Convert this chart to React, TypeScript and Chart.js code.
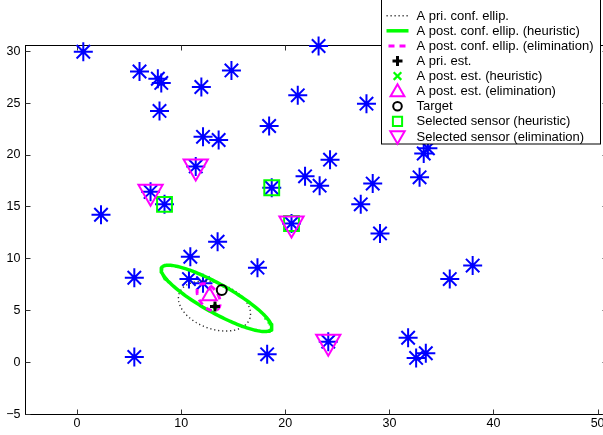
import React, { useEffect, useRef } from 'react';
import { Chart, registerables } from 'chart.js';

Chart.register(...registerables);

// ---- data ----
const SENSOR_X = [0.6, 6.0, 7.76, 8.09, 7.92, 11.94, 12.1, 13.6, 11.4, 7.06, 8.4, 2.3, 23.2, 14.83, 21.2, 27.8, 18.45, 24.3, 21.9, 23.3, 28.4, 27.25, 18.7, 20.6, 33.3, 33.7, 32.9, 10.88, 13.5, 5.5, 10.75, 12.1, 5.5, 17.33, 18.26, 24.13, 29.1, 31.8, 32.57, 33.5, 35.8, 38.0];
const SENSOR_Y = [29.9, 28.0, 27.3, 26.9, 24.2, 26.5, 21.7, 21.4, 18.85, 16.4, 15.2, 14.2, 30.45, 28.1, 25.7, 24.9, 22.75, 19.5, 17.9, 17.0, 17.2, 15.2, 16.8, 13.35, 20.1, 20.6, 17.8, 10.15, 11.6, 8.13, 8.0, 7.6, 0.5, 9.1, 0.75, 1.97, 12.4, 2.35, 0.4, 0.85, 8.0, 9.3];

const SEL_HEUR_X = [8.4, 18.7, 20.6];
const SEL_HEUR_Y = [15.2, 16.8, 13.35];
const SEL_ELIM_X = [11.4, 7.06, 20.6, 24.13];
const SEL_ELIM_Y = [18.85, 16.4, 13.35, 1.97];

const TARGET_X = [13.9];
const TARGET_Y = [6.95];
const PRI_EST_X = [13.25];
const PRI_EST_Y = [5.35];
const POST_HEUR_X = [13.25];
const POST_HEUR_Y = [5.35];
const POST_ELIM_X = [12.72];
const POST_ELIM_Y = [6.37];

// ellipse parameters: centre x, centre y, semi-major, semi-minor, angle (deg)
const PRI_ELLIPSE = [13.2, 5.4, 3.6, 2.2, -20];
const HEUR_ELLIPSE = [13.39, 6.14, 6.05, 1.38, -29.3];
const ELIM_ELLIPSE = [12.64, 6.26, 1.45, 0.9, -55];

const X_TICKS = [0, 10, 20, 30, 40, 50];
const Y_TICKS = [-5, 0, 5, 10, 15, 20, 25, 30];

const LEGEND_LABELS = [
  'A pri. conf. ellip.',
  'A post. conf. ellip. (heuristic)',
  'A post. conf. ellip. (elimination)',
  'A pri. est.',
  'A post. est. (heuristic)',
  'A post. est. (elimination)',
  'Target',
  'Selected sensor (heuristic)',
  'Selected sensor (elimination)',
];

const BLUE = '#0000ff';
const GREEN = '#00ff00';
const MAGENTA = '#ff00ff';
const BLACK = '#000000';
const DOT = '#2a2a2a';
const FONT = '"Liberation Sans", Arial, Helvetica, sans-serif';

function pts(xs: number[], ys: number[]) {
  return xs.map((x, i) => ({ x, y: ys[i] }));
}

function ellipse(p: number[], n = 160) {
  const [cx, cy, a, b, deg] = p;
  const th = (deg * Math.PI) / 180;
  const out: { x: number; y: number }[] = [];
  for (let i = 0; i <= n; i++) {
    const t = (2 * Math.PI * i) / n;
    const ex = a * Math.cos(t);
    const ey = b * Math.sin(t);
    out.push({ x: cx + ex * Math.cos(th) - ey * Math.sin(th), y: cy + ex * Math.sin(th) + ey * Math.cos(th) });
  }
  return out;
}

function fmt(v: number) {
  return v < 0 ? '\u2212' + Math.abs(v) : String(v);
}

function drawMarker(ctx: CanvasRenderingContext2D, kind: string, x: number, y: number, r: number, color: string, lw: number) {
  ctx.save();
  ctx.strokeStyle = color;
  ctx.lineWidth = lw;
  ctx.beginPath();
  if (kind === 'cross') {
    ctx.moveTo(x - r, y); ctx.lineTo(x + r, y);
    ctx.moveTo(x, y - r); ctx.lineTo(x, y + r);
  } else if (kind === 'x') {
    ctx.moveTo(x - r, y - r); ctx.lineTo(x + r, y + r);
    ctx.moveTo(x + r, y - r); ctx.lineTo(x - r, y + r);
  } else if (kind === 'triUp') {
    ctx.moveTo(x, y - r); ctx.lineTo(x + r * 0.866, y + r * 0.5); ctx.lineTo(x - r * 0.866, y + r * 0.5); ctx.closePath();
  } else if (kind === 'triDown') {
    ctx.moveTo(x, y + r); ctx.lineTo(x + r * 0.866, y - r * 0.5); ctx.lineTo(x - r * 0.866, y - r * 0.5); ctx.closePath();
  } else if (kind === 'circle') {
    ctx.arc(x, y, r, 0, Math.PI * 2);
  } else if (kind === 'square') {
    ctx.rect(x - r, y - r, 2 * r, 2 * r);
  }
  ctx.stroke();
  ctx.restore();
}

const framePlugin = {
  id: 'matlabFrame',
  beforeDatasetsDraw(chart: any) {
    const { ctx, chartArea: ca, scales } = chart;
    const L = Math.round(ca.left) + 0.5;
    const R = Math.round(ca.right) - 0.5;
    const T = Math.round(ca.top) + 0.5;
    const B = Math.round(ca.bottom) + 0.5;
    ctx.save();
    ctx.strokeStyle = BLACK;
    ctx.lineWidth = 1;
    ctx.strokeRect(L, T, R - L, B - T);
    ctx.strokeStyle = '#333';
    ctx.beginPath();
    X_TICKS.forEach((v) => {
      const px = Math.round(scales.x.getPixelForValue(v)) + 0.5;
      ctx.moveTo(px, B); ctx.lineTo(px, B - 5);
      ctx.moveTo(px, T); ctx.lineTo(px, T + 5);
    });
    Y_TICKS.forEach((v) => {
      const py = Math.round(scales.y.getPixelForValue(v)) + 0.5;
      ctx.moveTo(L, py); ctx.lineTo(L + 5, py);
      ctx.moveTo(R, py); ctx.lineTo(R - 5, py);
    });
    ctx.stroke();
    // tick labels
    ctx.fillStyle = BLACK;
    ctx.font = `12.5px ${FONT}`;
    ctx.textBaseline = 'middle';
    ctx.textAlign = 'center';
    X_TICKS.forEach((v) => {
      ctx.fillText(fmt(v), scales.x.getPixelForValue(v), B + 9);
    });
    ctx.textAlign = 'right';
    Y_TICKS.forEach((v) => {
      ctx.fillText(fmt(v), L - 5, scales.y.getPixelForValue(v) + 0.5);
    });
    ctx.restore();
  },
};

const legendPlugin = {
  id: 'matlabLegend',
  afterDraw(chart: any) {
    const ctx: CanvasRenderingContext2D = chart.ctx;
    const bx = 381.5, by = -1.5, bw = 219, bh = 145.5;
    ctx.save();
    ctx.fillStyle = '#ffffff';
    ctx.fillRect(bx, by, bw, bh);
    ctx.strokeStyle = BLACK;
    ctx.lineWidth = 1;
    ctx.strokeRect(bx, by, bw, bh);
    const x0 = 386.5, x1 = 408.5, xm = 397.5;
    LEGEND_LABELS.forEach((label, i) => {
      const y = 15.7 + 15.1 * i;
      ctx.save();
      if (i === 0) {
        ctx.strokeStyle = DOT;
        ctx.lineWidth = 1.4;
        ctx.setLineDash([1.2, 2.8]);
        ctx.beginPath(); ctx.moveTo(x0, y); ctx.lineTo(x1, y); ctx.stroke();
      } else if (i === 1) {
        ctx.strokeStyle = GREEN;
        ctx.lineWidth = 3.5;
        ctx.beginPath(); ctx.moveTo(x0, y); ctx.lineTo(x1, y); ctx.stroke();
      } else if (i === 2) {
        ctx.strokeStyle = MAGENTA;
        ctx.lineWidth = 3;
        ctx.setLineDash([6, 5]);
        ctx.lineDashOffset = -2;
        ctx.beginPath(); ctx.moveTo(x0, y); ctx.lineTo(x1, y); ctx.stroke();
      } else if (i === 3) {
        drawMarker(ctx, 'cross', xm, y, 5, BLACK, 3);
      } else if (i === 4) {
        drawMarker(ctx, 'x', xm, y, 3.8, GREEN, 2.2);
      } else if (i === 5) {
        drawMarker(ctx, 'triUp', xm, y + 1, 8, MAGENTA, 2);
      } else if (i === 6) {
        drawMarker(ctx, 'circle', xm, y, 4.3, BLACK, 2);
      } else if (i === 7) {
        drawMarker(ctx, 'square', xm, y, 4.6, GREEN, 2);
      } else if (i === 8) {
        drawMarker(ctx, 'triDown', xm, y - 1, 8.3, MAGENTA, 2);
      }
      ctx.restore();
      ctx.fillStyle = BLACK;
      ctx.font = `13px ${FONT}`;
      ctx.textBaseline = 'middle';
      ctx.textAlign = 'left';
      ctx.fillText(label, 416.5, y + 0.5);
    });
    ctx.restore();
  },
};

export default function App() {
  const ref = useRef<HTMLCanvasElement | null>(null);

  useEffect(() => {
    if (!ref.current) return;
    const common = { clip: false as any, showLine: false };
    const chart = new Chart(ref.current, {
      type: 'scatter',
      data: {
        datasets: [
          { ...common, label: 'Target', data: pts(TARGET_X, TARGET_Y), pointStyle: 'circle', pointRadius: 5, pointBorderWidth: 2, borderColor: BLACK, pointBorderColor: BLACK, pointBackgroundColor: 'rgba(0,0,0,0)' },
          { ...common, label: 'A post. est. (elimination)', data: pts(POST_ELIM_X, POST_ELIM_Y), pointStyle: 'triangle', pointRadius: 8.5, pointBorderWidth: 2, borderColor: MAGENTA, pointBorderColor: MAGENTA, pointBackgroundColor: 'rgba(0,0,0,0)' },
          { ...common, label: 'A pri. est.', data: pts(PRI_EST_X, PRI_EST_Y), pointStyle: 'cross', pointRadius: 5, pointBorderWidth: 3, borderColor: BLACK, pointBorderColor: BLACK },
          { ...common, label: 'A post. est. (heuristic)', data: pts(POST_HEUR_X, POST_HEUR_Y), pointStyle: 'crossRot', pointRadius: 3, pointBorderWidth: 2, borderColor: GREEN, pointBorderColor: GREEN },
          { clip: false as any, label: 'A post. conf. ellip. (elimination)', data: ellipse(ELIM_ELLIPSE), showLine: true, pointRadius: 0, borderColor: MAGENTA, borderWidth: 3, borderDash: [6, 5], tension: 0 },
          { clip: false as any, label: 'A post. conf. ellip. (heuristic)', data: ellipse(HEUR_ELLIPSE), showLine: true, pointRadius: 0, borderColor: GREEN, borderWidth: 3.5, tension: 0 },
          { clip: false as any, label: 'A pri. conf. ellip.', data: ellipse(PRI_ELLIPSE), showLine: true, pointRadius: 0, borderColor: DOT, borderWidth: 1.4, borderDash: [1.2, 2.8], tension: 0 },
          { ...common, label: 'Selected sensor (elimination)', data: pts(SEL_ELIM_X, SEL_ELIM_Y), pointStyle: 'triangle', rotation: 180, pointRotation: 180, pointRadius: 14, pointBorderWidth: 2, borderColor: MAGENTA, pointBorderColor: MAGENTA, pointBackgroundColor: 'rgba(0,0,0,0)' } as any,
          { ...common, label: 'Selected sensor (heuristic)', data: pts(SEL_HEUR_X, SEL_HEUR_Y), pointStyle: 'rect', pointRadius: 10.5, pointBorderWidth: 2, borderColor: GREEN, pointBorderColor: GREEN, pointBackgroundColor: 'rgba(0,0,0,0)' },
          { ...common, label: 'Sensors', data: pts(SENSOR_X, SENSOR_Y), pointStyle: 'star', pointRadius: 9.5, pointBorderWidth: 2, borderColor: BLUE, pointBorderColor: BLUE },
        ],
      },
      options: {
        responsive: false,
        animation: false,
        devicePixelRatio: 1,
        layout: { autoPadding: false, padding: { top: 45, right: 2, left: 0, bottom: 0 } },
        plugins: { legend: { display: false }, tooltip: { enabled: false } },
        elements: { point: { hoverRadius: 0 } },
        scales: {
          x: {
            type: 'linear',
            min: -5,
            max: 51,
            grid: { display: false, drawTicks: false },
            border: { display: false },
            ticks: { display: false },
            afterBuildTicks: (s: any) => { s.ticks = X_TICKS.map((v) => ({ value: v })); },
            afterFit: (s: any) => { s.height = 21; s.paddingLeft = 0; s.paddingRight = 0; },
          },
          y: {
            type: 'linear',
            min: -5,
            max: 30.55,
            grid: { display: false, drawTicks: false },
            border: { display: false },
            ticks: { display: false },
            afterBuildTicks: (s: any) => { s.ticks = Y_TICKS.map((v) => ({ value: v })); },
            afterFit: (s: any) => { s.width = 25; s.paddingTop = 0; s.paddingBottom = 0; },
          },
        },
      },
      plugins: [framePlugin, legendPlugin],
    } as any);
    return () => chart.destroy();
  }, []);

  return (
    <div style={{ position: 'fixed', left: 0, top: 0, width: 610, height: 435, background: '#fff' }}>
      <canvas ref={ref} width={610} height={435} style={{ display: 'block' }} />
    </div>
  );
}
